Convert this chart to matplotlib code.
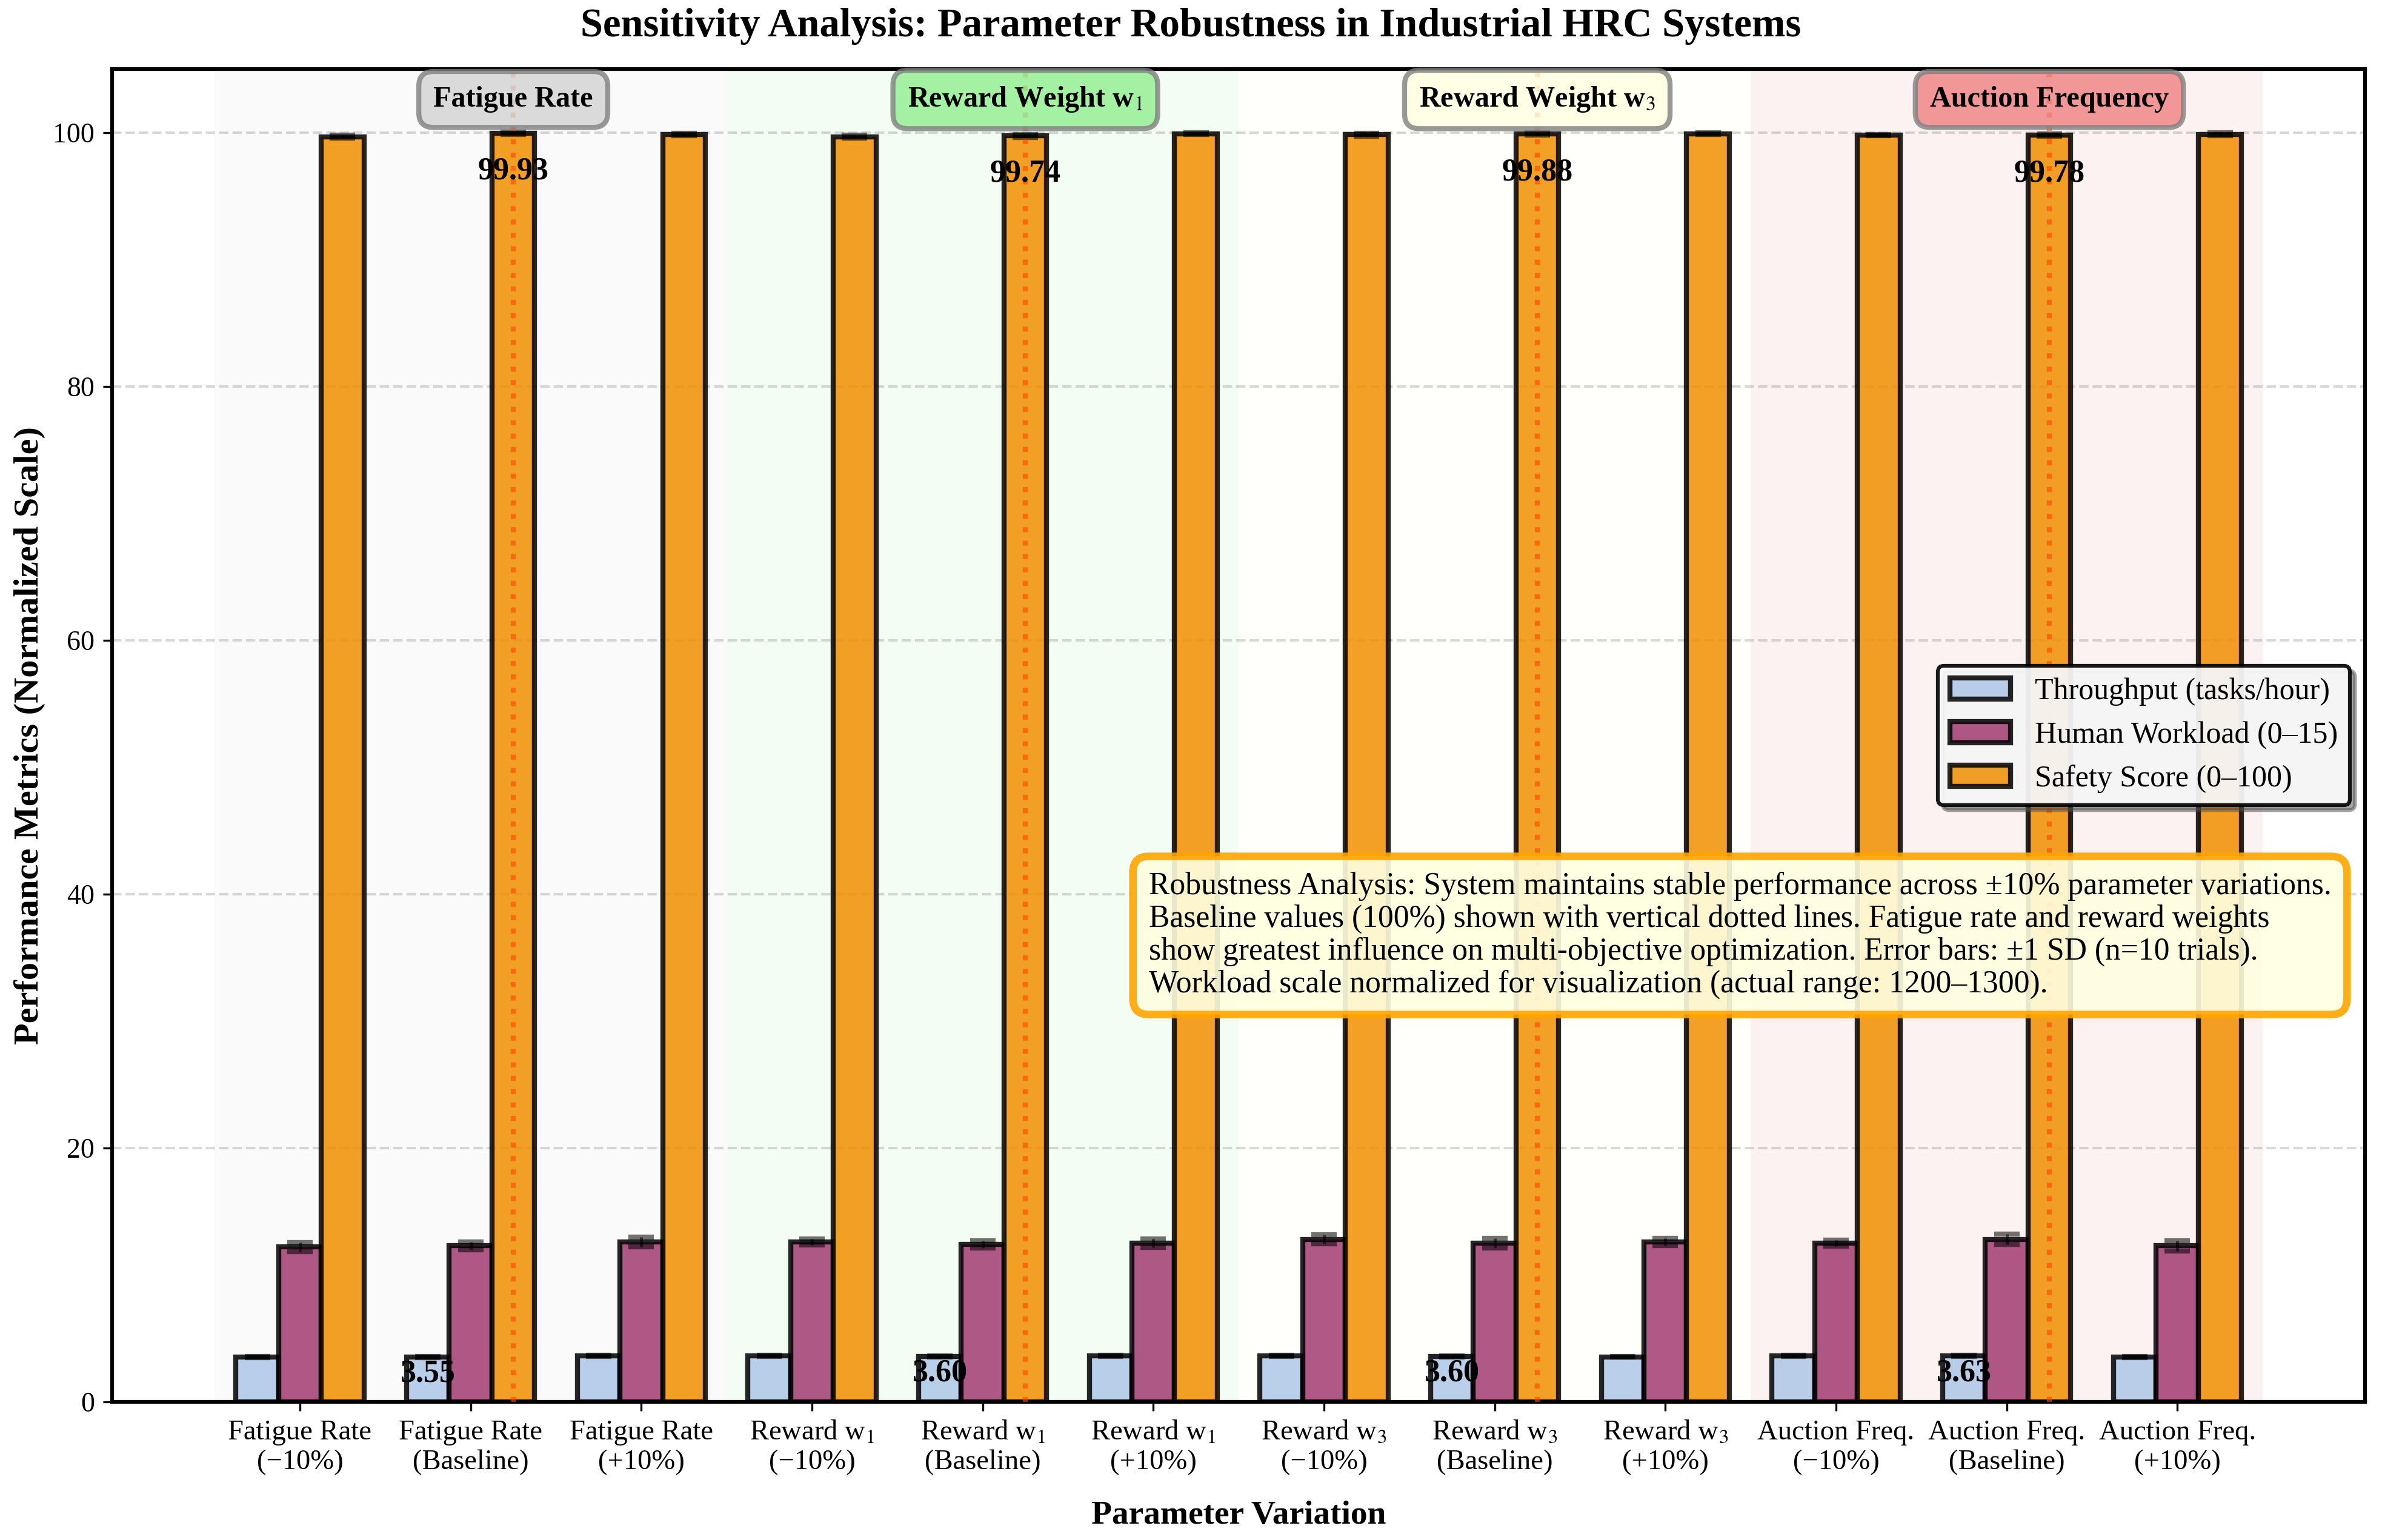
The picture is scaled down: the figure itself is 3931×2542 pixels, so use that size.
import numpy as np
import matplotlib
matplotlib.use('Agg')
import matplotlib.pyplot as plt

plt.rcParams['font.family'] = ['Liberation Serif', 'DejaVu Serif']
plt.rcParams['mathtext.fontset'] = 'stix'

# =============================================================================
# Data
# =============================================================================
tick_labels = [
    'Fatigue Rate\n(\u221210%)', 'Fatigue Rate\n(Baseline)', 'Fatigue Rate\n(+10%)',
    'Reward w$_1$\n(\u221210%)', 'Reward w$_1$\n(Baseline)', 'Reward w$_1$\n(+10%)',
    'Reward w$_3$\n(\u221210%)', 'Reward w$_3$\n(Baseline)', 'Reward w$_3$\n(+10%)',
    'Auction Freq.\n(\u221210%)', 'Auction Freq.\n(Baseline)', 'Auction Freq.\n(+10%)',
]
group_names = ['Fatigue Rate', 'Reward Weight w$_1$', 'Reward Weight w$_3$', 'Auction Frequency']
group_colors = ['lightgray', 'lightgreen', 'lightyellow', 'lightcoral']

throughput = [3.52, 3.55, 3.64, 3.63, 3.60, 3.63, 3.64, 3.60, 3.55, 3.64, 3.63, 3.55]
throughput_err = [0.04, 0.05, 0.04, 0.05, 0.05, 0.04, 0.04, 0.05, 0.04, 0.05, 0.05, 0.05]
workload = [12.2, 12.3, 12.6, 12.6, 12.4, 12.5, 12.8, 12.5, 12.6, 12.5, 12.8, 12.3]
workload_err = [0.35, 0.3, 0.4, 0.25, 0.3, 0.35, 0.35, 0.4, 0.3, 0.25, 0.4, 0.4]
safety = [99.65, 99.93, 99.85, 99.65, 99.74, 99.90, 99.82, 99.88, 99.90, 99.80, 99.78, 99.85]
safety_err = [0.12, 0.10, 0.10, 0.12, 0.12, 0.08, 0.10, 0.10, 0.08, 0.06, 0.10, 0.12]

baseline_idx = [1, 4, 7, 10]

note = ('Robustness Analysis: System maintains stable performance across \u00b110% parameter variations.\n'
        'Baseline values (100%) shown with vertical dotted lines. Fatigue rate and reward weights\n'
        'show greatest influence on multi-objective optimization. Error bars: \u00b11 SD (n=10 trials).\n'
        'Workload scale normalized for visualization (actual range: 1200\u20131300).')

# =============================================================================
# Plot
# =============================================================================
fig = plt.figure(figsize=(3931 / 300, 2542 / 300), dpi=300)
ax = fig.add_axes([0.0471, 0.0897, 0.9458, 0.8655])

x = np.arange(len(tick_labels))
w = 0.25
err_kw = dict(ecolor='black', elinewidth=1.2, capthick=2, alpha=0.55)

for g in range(4):
    ax.axvspan(3 * g - 0.5, 3 * g + 2.5, color=group_colors[g], alpha=0.1, zorder=0, lw=0)

ax.bar(x - w, throughput, w, yerr=throughput_err, capsize=5, color='#AEC7E8', alpha=0.85,
       edgecolor='black', linewidth=2, label='Throughput (tasks/hour)', error_kw=err_kw, zorder=2)
ax.bar(x, workload, w, yerr=workload_err, capsize=5, color='#A23B72', alpha=0.85,
       edgecolor='black', linewidth=2, label='Human Workload (0\u201315)', error_kw=err_kw, zorder=2)
ax.bar(x + w, safety, w, yerr=safety_err, capsize=5, color='#F18F01', alpha=0.85,
       edgecolor='black', linewidth=2, label='Safety Score (0\u2013100)', error_kw=err_kw, zorder=2)

for i in baseline_idx:
    ax.axvline(i + w, color='#FF4500', linestyle=':', linewidth=2, alpha=0.6, zorder=3)
    ax.text(i - w, throughput[i] * 0.63, f'{throughput[i]:.2f}', ha='center', va='center',
            fontsize=12.5, fontweight='bold', zorder=5)
    ax.text(i + w, safety[i] - 3.0, f'{safety[i]:.2f}', ha='center', va='center',
            fontsize=12.5, fontweight='bold', zorder=5)

for g in range(4):
    ax.text(3 * g + 1 + w, 102.6, group_names[g], ha='center', va='center', fontsize=11.6,
            fontweight='bold', zorder=6,
            bbox=dict(boxstyle='round,pad=0.5', facecolor=group_colors[g], alpha=0.8,
                      edgecolor='gray', linewidth=2))

ax.set_xticks(x)
ax.set_xticklabels(tick_labels, fontsize=11.2)
ax.tick_params(axis='y', labelsize=11)
ax.set_xlim(-1.1, 12.1)
ax.set_ylim(0, 105)
ax.set_xlabel('Parameter Variation', fontsize=13.3, fontweight='bold', labelpad=10)
ax.set_ylabel('Performance Metrics (Normalized Scale)', fontsize=14, fontweight='bold', labelpad=3)
fig.text(0.5, 0.983, 'Sensitivity Analysis: Parameter Robustness in Industrial HRC Systems',
         ha='center', va='center', fontsize=16, fontweight='bold')
ax.grid(axis='y', linestyle='--', alpha=0.3, color='gray', linewidth=1)
ax.set_axisbelow(True)
for s in ax.spines.values():
    s.set_linewidth(1.5)

ax.legend(loc='center right', fontsize=12, frameon=True, shadow=True, fancybox=True,
          edgecolor='black', framealpha=0.9).get_frame().set_linewidth(1.5)

ax.text(0.985, 0.35, note, transform=ax.transAxes, ha='right', va='center', fontsize=12.4,
        multialignment='left', linespacing=1.15, zorder=7,
        bbox=dict(boxstyle='round,pad=0.5', facecolor='lightyellow', alpha=0.9,
                  edgecolor='orange', linewidth=3))

fig.savefig('out.png', dpi=300)
